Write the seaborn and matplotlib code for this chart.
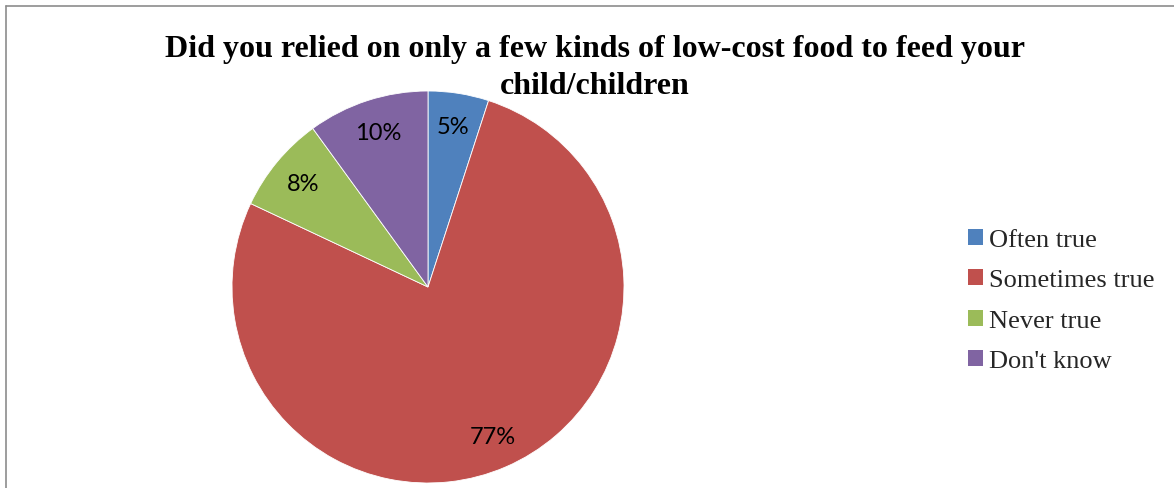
import matplotlib
matplotlib.use("Agg")
import matplotlib.pyplot as plt
from matplotlib.patches import Patch
from matplotlib.lines import Line2D
import seaborn as sns

sns.set_theme(style="white")

# Survey answers
categories = ["Often true", "Sometimes true", "Never true", "Don't know"]
shares = [5, 77, 8, 10]
slice_colors = ["#4F81BD", "#C0504D", "#9BBB59", "#8064A2"]
title_text = "Did you relied on only a few kinds of low-cost food to feed your\nchild/children"

W, H = 1174, 489
fig = plt.figure(figsize=(W / 100, H / 100), dpi=100)
fig.patch.set_facecolor("white")

palette = sns.color_palette(slice_colors)

# Pie axes: centre at (428, 288) px, radius 196 px
cx, cy, r = 428, 288, 196
ax = fig.add_axes([(cx - r) / W, (H - cy - r) / H, 2 * r / W, 2 * r / H])
wedges, texts, autotexts = ax.pie(
    shares,
    colors=palette,
    startangle=90,
    counterclock=False,
    radius=1.0,
    autopct=lambda p: f"{p:.0f}%",
    pctdistance=0.83,
    wedgeprops=dict(edgecolor="white", linewidth=0.6),
    textprops=dict(fontsize=17, family=["Lato", "DejaVu Sans"], color="black"),
)
ax.set_xlim(-1, 1)
ax.set_ylim(-1, 1)
ax.set_aspect("equal")
ax.axis("off")

# Title
fig.text(595 / W, 1 - 68 / H, title_text, ha="center", va="center",
         fontsize=23, fontweight="bold", family="Liberation Serif",
         linespacing=1.32, color="black")

# Legend
handles = [Patch(facecolor=c, edgecolor="none") for c in palette]
fig.legend(handles, categories, loc="center left",
           bbox_to_anchor=(968 / W, 1 - 301.5 / H),
           frameon=False, prop=dict(family="Liberation Serif", size=19),
           handlelength=0.55, handleheight=0.55, handletextpad=0.25,
           labelspacing=0.69, borderpad=0, borderaxespad=0)

# Outer frame (left and top edges visible)
fig.add_artist(Line2D([5.5 / W, 5.5 / W], [0, 1 - 7 / H], transform=fig.transFigure,
                      color="#8c8c8c", linewidth=1.2))
fig.add_artist(Line2D([5.5 / W, 1], [1 - 7 / H, 1 - 7 / H], transform=fig.transFigure,
                      color="#8c8c8c", linewidth=1.2))

fig.savefig("out.png", dpi=100, facecolor="white")
